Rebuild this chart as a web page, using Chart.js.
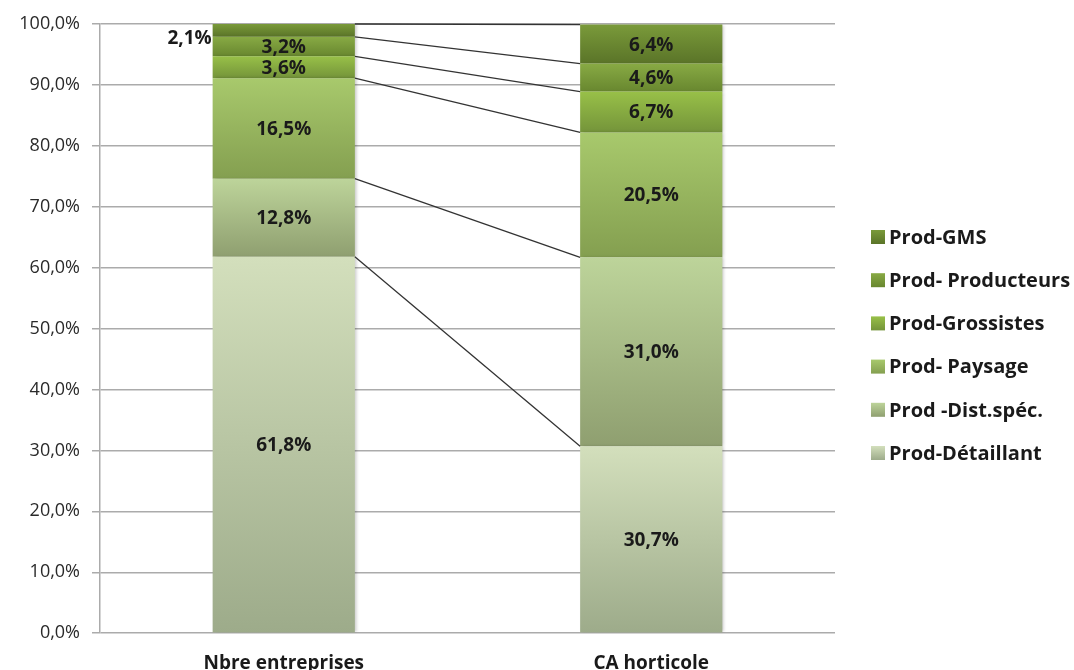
<!DOCTYPE html>
<html>
<head>
<meta charset="utf-8">
<script src="https://cdn.jsdelivr.net/npm/chart.js@4.4.1/dist/chart.umd.min.js"></script>
<style>
  html, body { margin: 0; padding: 0; background: #fff; overflow: hidden; }
  #wrap { width: 1074px; height: 694px; position: relative; }
</style>
</head>
<body>
<div id="wrap"><canvas id="graph"></canvas></div>
<script>
let categories = ["Nbre entreprises", "CA horticole"];

// bottom to top
let seriesNames = ["Prod-Détaillant", "Prod -Dist.spéc.", "Prod- Paysage", "Prod-Grossistes", "Prod- Producteurs", "Prod-GMS"];
let detaillant = [61.8, 30.7];
let distSpec = [12.8, 31.0];
let paysage = [16.5, 20.5];
let grossistes = [3.6, 6.7];
let producteurs = [3.2, 4.6];
let gms = [2.1, 6.4];

let yTicks = [0, 10, 20, 30, 40, 50, 60, 70, 80, 90, 100];

// gradient top / bottom per series
let topColors = ["#d3dfbc", "#bdd49a", "#a8c96c", "#98c048", "#88aa44", "#7a9a3a"];
let bottomColors = ["#9dab8a", "#8f9f70", "#849f50", "#74943a", "#68872f", "#5a7428"];

let seriesValues = [detaillant, distSpec, paysage, grossistes, producteurs, gms];

function fmt(v) {
  return v.toFixed(1).replace(".", ",") + "%";
}

function segmentFill(c) {
  let chart = c.chart;
  let di = c.datasetIndex;
  if (!chart.chartArea || c.dataIndex === undefined) return topColors[di];
  let ys = chart.scales.y;
  let start = 0;
  for (let k = 0; k < di; k++) start += seriesValues[k][c.dataIndex];
  let end = start + seriesValues[di][c.dataIndex];
  let g = chart.ctx.createLinearGradient(0, ys.getPixelForValue(end), 0, ys.getPixelForValue(start));
  g.addColorStop(0, topColors[di]);
  g.addColorStop(1, bottomColors[di]);
  return g;
}

let datasets = seriesNames.map((name, i) => ({
  label: name,
  data: seriesValues[i],
  backgroundColor: segmentFill,
  borderWidth: 0,
  categoryPercentage: 1,
  barPercentage: 0.387
}));

const barShadow = {
  id: "barShadow",
  beforeDatasetsDraw(chart) {
    let ctx = chart.ctx;
    ctx.save();
    ctx.shadowColor = "rgba(0,0,0,0.22)";
    ctx.shadowOffsetX = 2;
    ctx.shadowBlur = 3;
  },
  afterDatasetsDraw(chart) {
    chart.ctx.restore();
  }
};

const seriesLines = {
  id: "seriesLines",
  afterDatasetsDraw(chart) {
    let ctx = chart.ctx;
    ctx.save();
    ctx.strokeStyle = "#333";
    ctx.lineWidth = 1.3;
    chart.data.datasets.forEach((ds, di) => {
      let bars = chart.getDatasetMeta(di).data;
      let a = bars[0], b = bars[1];
      ctx.beginPath();
      ctx.moveTo(a.x + a.width / 2, a.y);
      ctx.lineTo(b.x - b.width / 2, b.y);
      ctx.stroke();
    });
    ctx.restore();
  }
};

const valueLabels = {
  id: "valueLabels",
  afterDatasetsDraw(chart) {
    let ctx = chart.ctx;
    ctx.save();
    ctx.font = "bold 19px 'Open Sans'";
    ctx.fillStyle = "#1a1a1a";
    ctx.textBaseline = "middle";
    chart.data.datasets.forEach((ds, di) => {
      chart.getDatasetMeta(di).data.forEach((bar, i) => {
        let x = bar.x;
        let y = (bar.y + bar.base) / 2;
        ctx.textAlign = "center";
        // smallest slice label sits beside the bar
        if (di === 5 && i === 0) {
          ctx.textAlign = "right";
          x = bar.x - bar.width / 2 - 1;
          y += 7;
        }
        ctx.fillText(fmt(ds.data[i]), x, y + 1);
      });
    });
    ctx.restore();
  }
};

const sideLegend = {
  id: "sideLegend",
  afterDraw(chart) {
    let ctx = chart.ctx;
    ctx.save();
    ctx.font = "bold 20px 'Open Sans'";
    ctx.fillStyle = "#1a1a1a";
    ctx.textAlign = "left";
    ctx.textBaseline = "middle";
    for (let k = 0; k < seriesNames.length; k++) {
      let di = seriesNames.length - 1 - k;
      let cy = 237 + k * 43.2;
      let g = ctx.createLinearGradient(0, cy - 7, 0, cy + 7);
      g.addColorStop(0, topColors[di]);
      g.addColorStop(1, bottomColors[di]);
      ctx.fillStyle = g;
      ctx.fillRect(871, cy - 7, 14, 14);
      ctx.fillStyle = "#1a1a1a";
      ctx.fillText(seriesNames[di], 889, cy + 1);
    }
    ctx.restore();
  }
};

const ctx = document.getElementById("graph");

new Chart(ctx, {
  type: "bar",
  data: { labels: categories, datasets: datasets },
  plugins: [barShadow, seriesLines, valueLabels, sideLegend],
  options: {
    responsive: true,
    maintainAspectRatio: false,
    animation: false,
    layout: { padding: { top: 24, right: 239, left: 0, bottom: 0 } },
    plugins: {
      legend: { display: false },
      tooltip: { enabled: false }
    },
    scales: {
      x: {
        stacked: true,
        grid: { display: false, drawTicks: false },
        border: { display: false },
        ticks: {
          padding: 19,
          color: "#1a1a1a",
          font: { family: "'Open Sans'", size: 19, weight: "bold", lineHeight: 1.2 }
        }
      },
      y: {
        stacked: true,
        min: 0,
        max: 100,
        afterFit(scale) { scale.width = 100; },
        afterBuildTicks(scale) { scale.ticks = yTicks.map(v => ({ value: v })); },
        grid: { color: "#ababab", lineWidth: 1.5, tickLength: 8 },
        border: { color: "#ababab", width: 1.5 },
        ticks: {
          padding: 12,
          color: "#2a2a2a",
          font: { family: "'Open Sans'", size: 18 },
          callback: v => fmt(v)
        }
      }
    }
  }
});
</script>
</body>
</html>
